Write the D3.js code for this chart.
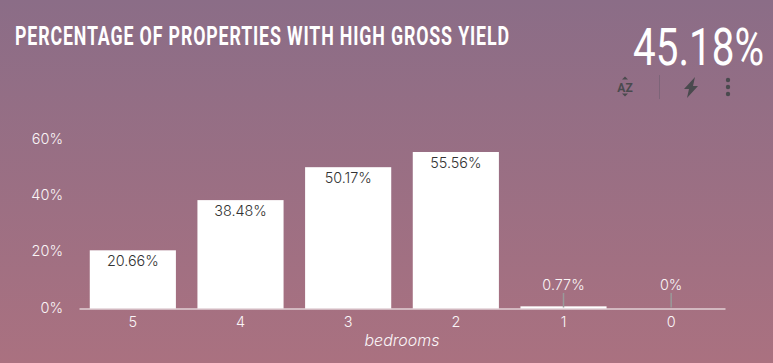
<!DOCTYPE html>
<html>
<head>
<meta charset="utf-8">
<style>
  html, body { margin: 0; padding: 0; }
  svg { display: block; }
  text { font-family: Inter, "Open Sans", sans-serif; }
</style>
<script src="https://cdn.jsdelivr.net/npm/d3@7"></script>
</head>
<body>
<div id="chart"></div>
<script>
const categories = ['5', '4', '3', '2', '1', '0'];
const values = [20.66, 38.48, 50.17, 55.56, 0.77, 0];
const valueLabels = ['20.66%', '38.48%', '50.17%', '55.56%', '0.77%', '0%'];
const yTicks = [0, 20, 40, 60];
const titleText = 'PERCENTAGE OF PROPERTIES WITH HIGH GROSS YIELD';
const kpiText = '45.18%';
const xTitle = 'bedrooms';

const width = 773, height = 363;
const svg = d3.select('#chart').append('svg')
  .attr('width', width)
  .attr('height', height);

// background gradient
const grad = svg.append('defs').append('linearGradient')
  .attr('id', 'bg')
  .attr('x1', 0).attr('y1', 0).attr('x2', 0).attr('y2', 1);
grad.append('stop').attr('offset', '0%').attr('stop-color', '#8b6d87');
grad.append('stop').attr('offset', '100%').attr('stop-color', '#aa7180');
svg.append('rect').attr('width', width).attr('height', height).attr('fill', 'url(#bg)');

const x = d3.scaleBand().domain(categories).range([79, 725]).paddingInner(0.2).paddingOuter(0.1);
const y = d3.scaleLinear().domain([0, 60]).range([308.5, 139.5]);

// squeeze a text horizontally to a target width, the originals are condensed faces
function squeeze(sel, left, baseline, targetWidth) {
  const natural = sel.node().getComputedTextLength();
  sel.attr('transform', `translate(${left},${baseline}) scale(${targetWidth / natural},1)`);
}

// title and kpi
svg.append('text')
  .attr('fill', '#fff')
  .attr('font-size', 25)
  .attr('font-weight', 700)
  .style('letter-spacing', '1.2px')
  .style('font-family', 'Roboto, sans-serif')
  .text(titleText)
  .call(squeeze, 15, 45, 495);

svg.append('text')
  .attr('fill', '#fff')
  .attr('font-size', 51)
  .style('font-family', 'Roboto, sans-serif')
  .text(kpiText)
  .call(squeeze, 633, 65, 131);

// toolbar icons
const iconColor = '#4a4a4e';
svg.append('text')
  .attr('x', 625).attr('y', 92)
  .attr('text-anchor', 'middle')
  .attr('fill', iconColor)
  .attr('font-size', 12)
  .attr('font-weight', 700)
  .style('font-family', 'Roboto, sans-serif')
  .text('AZ');
const icons = svg.append('g').attr('fill', iconColor);
icons.append('path').attr('d', 'M625 76.5l3 3h-6z');
icons.append('path').attr('d', 'M625 96.5l3 -3h-6z');
icons.append('path').attr('d', 'M695 77l-11 12h5l-2 9l11 -12h-5z');
[-7, 0, 7].forEach(d => {
  icons.append('circle').attr('cx', 728).attr('cy', 87 + d).attr('r', 2.2);
});
svg.append('line')
  .attr('x1', 659.5).attr('x2', 659.5).attr('y1', 75).attr('y2', 99)
  .attr('stroke', '#7d6478');

// y axis
const yAxis = svg.append('g')
  .attr('transform', 'translate(63,-1)')
  .call(d3.axisLeft(y).tickValues(yTicks).tickFormat(d => d + '%').tickSize(0).tickPadding(0));
yAxis.select('.domain').remove();
yAxis.selectAll('text')
  .attr('fill', '#faf5f7')
  .attr('font-size', 14.5)
  .attr('font-weight', 300)
  .style('font-family', 'Inter, sans-serif');

// bars
svg.selectAll('.bar')
  .data(values)
  .join('rect')
  .attr('class', 'bar')
  .attr('x', (d, i) => x(categories[i]))
  .attr('width', x.bandwidth())
  .attr('y', d => y(d))
  .attr('height', d => y(0) - y(d))
  .attr('fill', '#fff');

// x axis
const xAxis = svg.append('g')
  .attr('transform', `translate(0,${y(0)})`)
  .call(d3.axisBottom(x).tickSize(0).tickPadding(8));
xAxis.select('.domain').attr('stroke', '#fff').attr('stroke-width', 1.2);
xAxis.selectAll('text')
  .attr('fill', '#faf5f7')
  .attr('font-size', 14.5)
  .attr('font-weight', 300)
  .style('font-family', 'Inter, sans-serif');

svg.append('text')
  .attr('x', 402).attr('y', 346)
  .attr('text-anchor', 'middle')
  .attr('fill', '#faf5f7')
  .attr('font-size', 16)
  .attr('font-style', 'italic')
  .attr('font-weight', 300)
  .text(xTitle);

// small bars get their label above with a leader line
const isSmall = d => d < 5;
svg.selectAll('.leader')
  .data(values.filter(isSmall))
  .join('line')
  .attr('class', 'leader')
  .attr('x1', d => x(categories[values.indexOf(d)]) + x.bandwidth() / 2)
  .attr('x2', d => x(categories[values.indexOf(d)]) + x.bandwidth() / 2)
  .attr('y1', 293)
  .attr('y2', y(0) - 1)
  .attr('stroke', '#9a9a9a')
  .attr('stroke-width', 1.5);

svg.selectAll('.bar-label')
  .data(values)
  .join('text')
  .attr('class', 'bar-label')
  .attr('x', (d, i) => x(categories[i]) + x.bandwidth() / 2)
  .attr('y', d => isSmall(d) ? 290 : y(d) + 16)
  .attr('text-anchor', 'middle')
  .attr('font-size', 14.4)
  .attr('font-weight', 300)
  .attr('fill', d => isSmall(d) ? '#faf5f7' : '#333')
  .text((d, i) => valueLabels[i]);
</script>
</body>
</html>
